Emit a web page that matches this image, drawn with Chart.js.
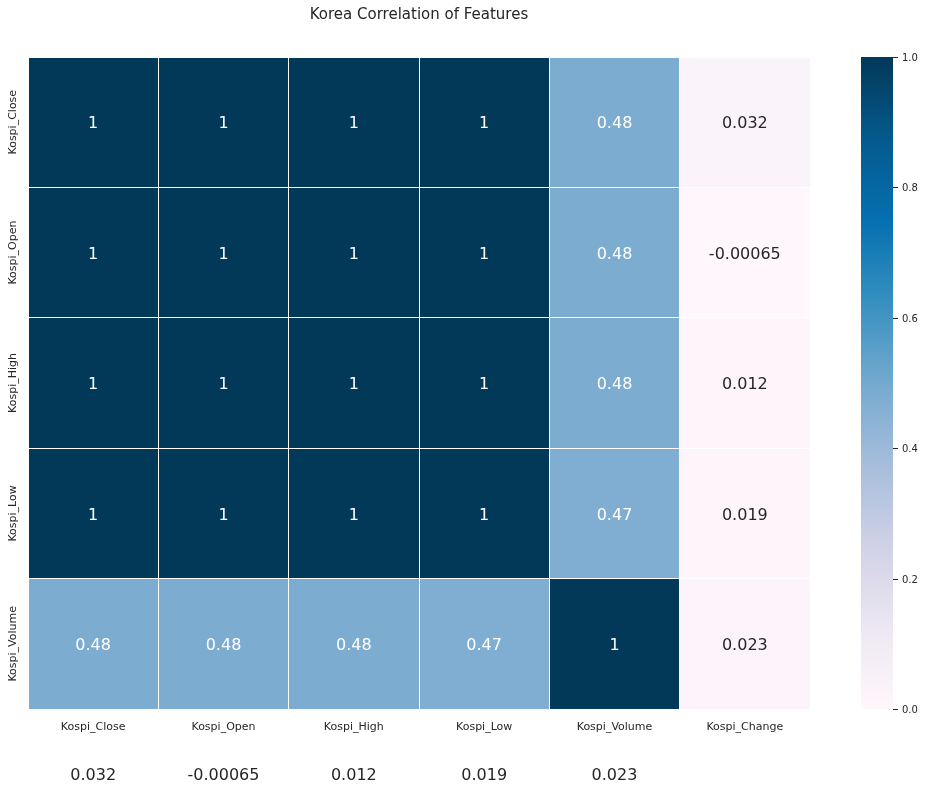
<!DOCTYPE html>
<html>
<head>
<meta charset="utf-8">
<script src="https://cdn.jsdelivr.net/npm/chart.js@4.4.0/dist/chart.umd.min.js"></script>
<style>
html,body{margin:0;padding:0;background:#ffffff;}
#wrap{width:927px;height:790px;position:relative;}
</style>
</head>
<body>
<div id="wrap"><canvas id="c"></canvas></div>
<script>
// ---- data ----
const features = ['Kospi_Close', 'Kospi_Open', 'Kospi_High', 'Kospi_Low', 'Kospi_Volume', 'Kospi_Change'];
const rowClose  = [1, 1, 1, 1, 0.48, 0.032];
const rowOpen   = [1, 1, 1, 1, 0.48, -0.00065];
const rowHigh   = [1, 1, 1, 1, 0.48, 0.012];
const rowLow    = [1, 1, 1, 1, 0.47, 0.019];
const rowVolume = [0.48, 0.48, 0.48, 0.47, 1, 0.023];
const rowChange = [0.032, -0.00065, 0.012, 0.019, 0.023, 1];
const matrix = [rowClose, rowOpen, rowHigh, rowLow, rowVolume, rowChange];
const visibleRows = 5;
const colorbarTicks = [0.0, 0.2, 0.4, 0.6, 0.8, 1.0];
const titleText = 'Korea Correlation of Features';

// ---- PuBu colormap (matplotlib-like, 256 levels) ----
const PUBU = [[255,247,251],[236,231,242],[208,209,230],[166,189,219],[116,169,207],[54,144,192],[5,112,176],[4,90,141],[2,56,88]];
function cmapAt(t){
  t = Math.max(0, Math.min(1, t));
  const s = t * 8;
  const i = Math.min(7, Math.floor(s));
  const f = s - i;
  const a = PUBU[i], b = PUBU[i + 1];
  return [0,1,2].map(k => a[k] + (b[k] - a[k]) * f);
}
function cmap(v){
  let idx = Math.floor(Math.max(0, Math.min(1, v)) * 256);
  if (idx > 255) idx = 255;
  return cmapAt(idx / 255).map(Math.round);
}
function rgbStr(c){ return 'rgb(' + c[0] + ',' + c[1] + ',' + c[2] + ')'; }
function lum(c){
  const l = c.map(x => { x = x / 255; return x <= 0.03928 ? x / 12.92 : Math.pow((x + 0.055) / 1.055, 2.4); });
  return 0.2126 * l[0] + 0.7152 * l[1] + 0.0722 * l[2];
}
function fmt(v){ return String(Number(v.toPrecision(2))); }

const TXT = '#262626';
const FONT = '"DejaVu Sans", sans-serif';

const datasets = matrix.map((row, r) => ({
  label: features[r],
  data: features.map(() => [r, r + 1]),
  backgroundColor: row.map(v => rgbStr(cmap(v))),
  borderWidth: 0,
  borderSkipped: false,
  grouped: false,
  barPercentage: 1,
  categoryPercentage: 1
}));

const heatPlugin = {
  id: 'heatPlugin',
  afterDatasetsDraw(chart){
    const ctx = chart.ctx;
    const xs = chart.scales.x, ys = chart.scales.y;
    const a = chart.chartArea;
    ctx.save();
    ctx.strokeStyle = '#ffffff';
    ctx.lineWidth = 1;
    ctx.beginPath();
    for (let c = 0; c <= features.length; c++) {
      const x = Math.floor(xs.getPixelForValue(c - 0.5)) + 0.5;
      ctx.moveTo(x, a.top); ctx.lineTo(x, a.bottom);
    }
    for (let r = 0; r <= visibleRows; r++) {
      const y = Math.floor(ys.getPixelForValue(r)) + 0.5;
      ctx.moveTo(a.left, y); ctx.lineTo(a.right, y);
    }
    ctx.stroke();
    ctx.restore();
  },
  afterDraw(chart){
    const ctx = chart.ctx;
    const xs = chart.scales.x, ys = chart.scales.y;
    const area = chart.chartArea;
    ctx.save();
    // annotations
    ctx.font = '16px ' + FONT;
    ctx.textAlign = 'center';
    ctx.textBaseline = 'middle';
    matrix.forEach((row, r) => {
      row.forEach((v, c) => {
        const x = xs.getPixelForValue(c);
        const y = ys.getPixelForValue(r + 0.5) + 2;
        ctx.fillStyle = lum(cmap(v)) > 0.408 ? TXT : '#ffffff';
        ctx.fillText(fmt(v), x, y);
      });
    });
    // y tick labels (rotated)
    ctx.font = '11px ' + FONT;
    ctx.fillStyle = TXT;
    for (let r = 0; r < visibleRows; r++) {
      const y = ys.getPixelForValue(r + 0.5);
      ctx.save();
      ctx.translate(13, y);
      ctx.rotate(-Math.PI / 2);
      ctx.fillText(features[r], 0, 0);
      ctx.restore();
    }
    // title
    ctx.font = '15px ' + FONT;
    ctx.fillText(titleText, (area.left + area.right) / 2, 15);
    // colorbar
    const cbL = 861, cbR = 893;
    const cs = chart.scales.cb;
    const yTop = cs.getPixelForValue(1), yBot = cs.getPixelForValue(0);
    const g = ctx.createLinearGradient(0, yBot, 0, yTop);
    for (let i = 0; i <= 64; i++) {
      g.addColorStop(i / 64, rgbStr(cmapAt(i / 64).map(Math.round)));
    }
    ctx.fillStyle = g;
    ctx.fillRect(cbL, yTop, cbR - cbL, yBot - yTop);
    ctx.strokeStyle = TXT;
    ctx.lineWidth = 1;
    ctx.fillStyle = TXT;
    ctx.font = '10px ' + FONT;
    ctx.textAlign = 'left';
    colorbarTicks.forEach(t => {
      const y = Math.round(cs.getPixelForValue(t)) + 0.5;
      ctx.beginPath();
      ctx.moveTo(cbR, y);
      ctx.lineTo(cbR + 5, y);
      ctx.stroke();
      ctx.fillText(t.toFixed(1), cbR + 9, y + 1);
    });
    ctx.restore();
  }
};

new Chart(document.getElementById('c'), {
  type: 'bar',
  data: { labels: features, datasets },
  options: {
    responsive: true,
    maintainAspectRatio: false,
    animation: false,
    devicePixelRatio: 1,
    layout: { padding: { top: 57, right: 117, left: 0, bottom: 0 } },
    plugins: { legend: { display: false }, tooltip: { enabled: false }, title: { display: false } },
    scales: {
      x: {
        type: 'category',
        offset: true,
        grid: { display: false, drawTicks: false },
        border: { display: false },
        ticks: { color: TXT, font: { family: FONT, size: 11 }, padding: 12, maxRotation: 0, minRotation: 0, autoSkip: false },
        afterFit(s){ s.height = 81; }
      },
      y: {
        type: 'linear',
        min: 0,
        max: visibleRows,
        reverse: true,
        grid: { display: false, drawTicks: false },
        border: { display: false },
        ticks: { display: false },
        afterFit(s){ s.width = 28; }
      },
      cb: {
        type: 'linear',
        display: false,
        position: 'right',
        min: 0,
        max: 1
      }
    }
  },
  plugins: [heatPlugin]
});
</script>
</body>
</html>
